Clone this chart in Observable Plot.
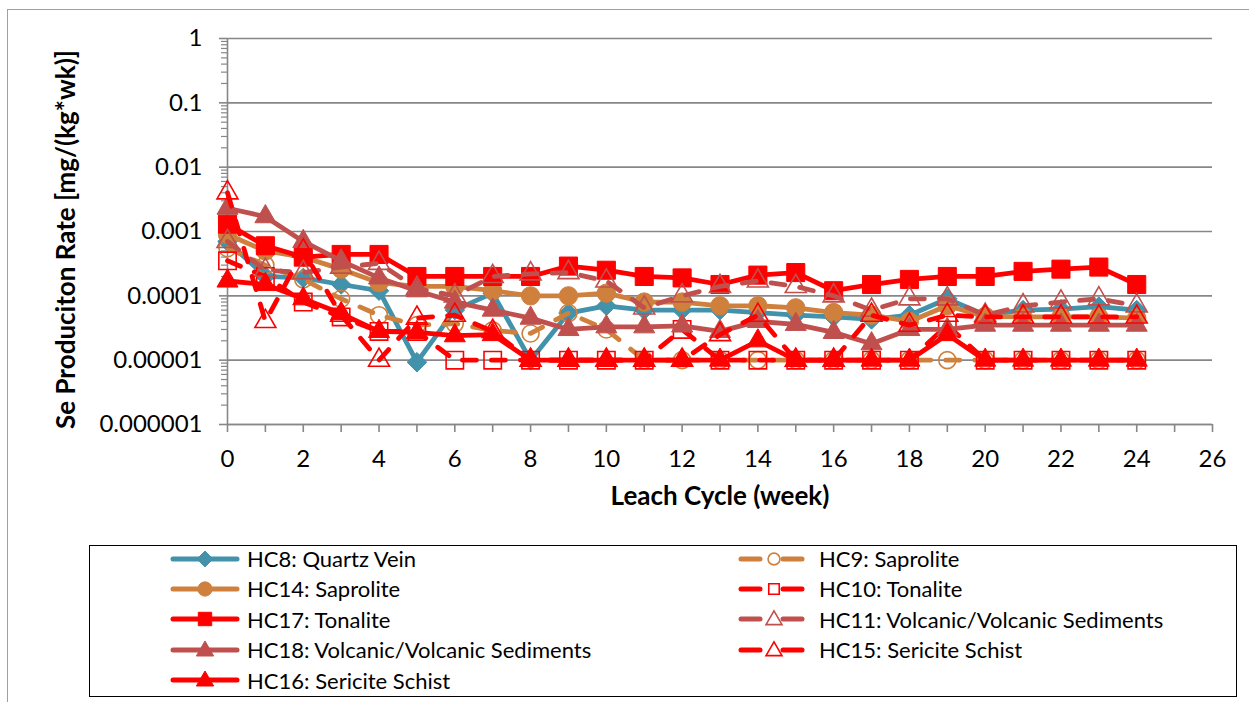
<!DOCTYPE html>
<html><head><meta charset="utf-8">
<script src="https://cdn.jsdelivr.net/npm/d3@7"></script>
<script src="https://cdn.jsdelivr.net/npm/@observablehq/plot@0.6"></script>
<style>
body{margin:0;background:#fff;font-family:Lato,"Open Sans",sans-serif;overflow:hidden;}
#frame{position:absolute;left:7px;top:9px;width:1400px;height:900px;border:1px solid #a0a0a0;box-sizing:border-box;}
#chart{position:absolute;left:0;top:0;}
#legend{position:absolute;left:89px;top:545px;width:1148px;height:152px;border:1.6px solid #000;box-sizing:border-box;background:#fff;}
.item{position:absolute;height:30px;display:flex;align-items:center;}
.item span{font-size:22px;color:#000;white-space:nowrap;}
</style></head><body>
<div id="frame"></div>
<div id="chart"></div>
<div id="legend"></div>
<script>
// ---- data ----
const weeks = [0,1,2,3,4,5,6,7,8,9,10,11,12,13,14,15,16,17,18,19,20,21,22,23,24];
const hc8  = [0.0007,0.0002,0.00019,0.00015,0.00012,0.0000093,0.00006,0.00011,0.00001,0.000054,0.00007,0.00006,0.00006,0.00006,0.000055,0.00005,0.000047,0.000043,0.00005,0.00009,0.00005,0.00006,0.000062,0.000068,0.00006];
const hc9  = [0.00055,0.0003,0.00018,0.00009,0.00005,0.000035,0.000037,0.000029,0.000026,0.000054,0.00003,0.00001,0.00001,0.00001,0.00001,0.00001,0.00001,0.00001,0.00001,0.00001,0.00001,0.00001,0.00001,0.00001,0.00001];
const hc14 = [0.0009,0.0005,0.0004,0.00026,0.00016,0.00014,0.00014,0.00012,0.0001,0.0001,0.00011,0.00008,0.00008,0.00007,0.00007,0.000065,0.000055,0.00005,0.00004,0.00007,0.000048,0.000047,0.000047,0.000047,0.000045];
const hc10 = [0.00035,0.0002,0.00008,0.000047,0.000028,0.000028,0.00001,0.00001,0.00001,0.00001,0.00001,0.00001,0.00003,0.00001,0.00001,0.00001,0.00001,0.00001,0.00001,0.000035,0.00001,0.00001,0.00001,0.00001,0.00001];
const hc17 = [0.0013,0.0006,0.0004,0.00044,0.00044,0.0002,0.0002,0.0002,0.0002,0.00029,0.00025,0.0002,0.00019,0.00015,0.00021,0.00023,0.00012,0.00015,0.00018,0.0002,0.0002,0.00024,0.00026,0.00028,0.00015];
const hc11 = [0.0007,0.00025,0.00023,0.00028,0.00032,0.00013,0.0001,0.0002,0.00022,0.00023,0.00017,0.000065,0.0001,0.00014,0.00017,0.00014,0.0001,0.00006,0.00009,0.00009,0.00005,0.00007,0.00008,0.00009,0.00007];
const hc18 = [0.0023,0.0017,0.0007,0.00035,0.00019,0.00012,0.00008,0.00006,0.000045,0.00003,0.000033,0.000033,0.000034,0.000028,0.00004,0.000036,0.000027,0.000018,0.00003,0.00003,0.000035,0.000035,0.000035,0.000035,0.000035];
const hc15 = [0.004,0.00004,0.0005,0.00005,0.00001,0.000045,0.00005,0.000028,0.00001,0.00001,0.00001,0.00001,0.00001,0.000025,0.00005,0.00001,0.00001,0.00005,0.000035,0.00005,0.000047,0.000047,0.000047,0.000047,0.000047];
const hc16 = [0.00017,0.00015,0.00009,0.000053,0.000028,0.000027,0.000024,0.000025,0.00001,0.00001,0.00001,0.00001,0.00001,0.00001,0.00002,0.00001,0.00001,0.00001,0.00001,0.000025,0.00001,0.00001,0.00001,0.00001,0.00001];

const seriesNames = ["HC8: Quartz Vein","HC9: Saprolite","HC14: Saprolite","HC10: Tonalite","HC17: Tonalite","HC11: Volcanic/Volcanic Sediments","HC18: Volcanic/Volcanic Sediments","HC15: Sericite Schist","HC16: Sericite Schist"];
const seriesValues = [hc8,hc9,hc14,hc10,hc17,hc11,hc18,hc15,hc16];

const yTicks = [1,0.1,0.01,0.001,0.0001,0.00001,0.000001];
const yTickLabels = ["1","0.1","0.01","0.001","0.0001","0.00001","0.000001"];
const xTicks = [0,1,2,3,4,5,6,7,8,9,10,11,12,13,14,15,16,17,18,19,20,21,22,23,24,25,26];
const xTickLabels = [0,2,4,6,8,10,12,14,16,18,20,22,24,26];
const xTitle = "Leach Cycle (week)";
const yTitle = "Se Produciton Rate [mg/(kg*wk)]";

// ---- styles ----
const TEAL="#4192AA", ORANGE="#CF803D", RED="#FF0000", BROWN="#C0504D";
const styles = [
  {color:TEAL,   dashed:false, symbol:"diamond2", open:false, r:8.8},
  {color:ORANGE, dashed:true,  symbol:"circle",   open:true,  r:8.5},
  {color:ORANGE, dashed:false, symbol:"circle",   open:false, r:9.2},
  {color:RED,    dashed:true,  symbol:"square",   open:true,  r:9.8},
  {color:RED,    dashed:false, symbol:"square",   open:false, r:10.2},
  {color:BROWN,  dashed:true,  symbol:"triangle", open:true,  r:7.8},
  {color:BROWN,  dashed:false, symbol:"triangle", open:false, r:7.8},
  {color:RED,    dashed:true,  symbol:"triangle", open:true,  r:7.8},
  {color:RED,    dashed:false, symbol:"triangle", open:false, r:7.8}
];
const GRID="#878787";
const DASH="14,15";

const rows = seriesNames.map((name,k)=>weeks.map((w,i)=>({series:name, week:w, value:seriesValues[k][i]})));
const labelMap = new Map(yTicks.map((d,i)=>[d,yTickLabels[i]]));
const yMinor = yTicks.slice(1).flatMap(d=>[2,3,4,5,6,7,8,9].map(m=>m*d));

const marks = [
  Plot.gridY(yTicks,{stroke:GRID,strokeOpacity:1,strokeWidth:1.6}),
  Plot.ruleX([0],{stroke:GRID,strokeWidth:1.6}),
  Plot.ruleY([0.000001],{stroke:GRID,strokeWidth:1.6}),
  Plot.axisY(yMinor,{tickSize:6,tickFormat:()=>"",stroke:GRID,strokeWidth:1.2}),
  Plot.axisY(yTicks,{tickSize:8,tickFormat:()=>"",stroke:GRID,strokeWidth:1.6}),
  Plot.axisY(yTicks,{tickSize:0,tickPadding:25,tickFormat:d=>labelMap.get(d),fontSize:24,fill:"#000"}),
  Plot.axisX(xTicks,{tickSize:8,tickFormat:()=>"",stroke:GRID,strokeWidth:1.6}),
  Plot.axisX(xTickLabels,{tickSize:0,tickPadding:25,fontSize:24,fill:"#000"}),
  Plot.text([xTitle],{frameAnchor:"bottom",dy:80,fontSize:26,fontWeight:"bold",fill:"#000"}),
  Plot.text([yTitle],{frameAnchor:"left",textAnchor:"middle",dx:-161,dy:8,rotate:-90,fontSize:26,fontWeight:"bold",fill:"#000"})
];
rows.forEach((data,k)=>{
  const s = styles[k];
  marks.push(Plot.line(data,{x:"week",y:"value",stroke:s.color,strokeWidth:4.8,
    strokeDasharray:s.dashed?DASH:null,strokeLinecap:"round",strokeLinejoin:"round"}));
  marks.push(Plot.dot(data,{x:"week",y:"value",symbol:s.symbol,r:s.r,
    fill:s.open?"none":s.color,stroke:s.color,strokeWidth:s.open?1.6:1}));
});

const chart = Plot.plot({
  width:1249,height:520,
  marginLeft:227,marginRight:37,marginTop:38,marginBottom:96,
  style:{fontFamily:"Lato, 'Open Sans', sans-serif",background:"transparent",overflow:"visible"},
  x:{domain:[0,26],label:null},
  y:{type:"log",domain:[0.000001,1],label:null},
  marks
});
document.getElementById("chart").appendChild(chart);

// ---- legend ----
const symMap = {diamond2:d3.symbolDiamond2,circle:d3.symbolCircle,square:d3.symbolSquare,triangle:d3.symbolTriangle};
const legend = document.getElementById("legend");
seriesNames.forEach((name,i)=>{
  const s = styles[i];
  const col = i%2, row = Math.floor(i/2);
  const item = document.createElement("div");
  item.className="item";
  item.style.top = (row*30.4-2.5)+"px";
  item.style.left = (col===0? 80 : 646)+"px";
  const ns="http://www.w3.org/2000/svg";
  const svg = document.createElementNS(ns,"svg");
  svg.setAttribute("width",70);svg.setAttribute("height",30);
  svg.style.marginRight = col===0? "7px":"13px";
  const addLine=(x1,x2)=>{const l=document.createElementNS(ns,"line");
    l.setAttribute("x1",x1);l.setAttribute("x2",x2);l.setAttribute("y1",15);l.setAttribute("y2",15);
    l.setAttribute("stroke",s.color);l.setAttribute("stroke-width",5);l.setAttribute("stroke-linecap","round");svg.appendChild(l);};
  let cx;
  if(!s.dashed){ addLine(3,67); cx=35; }
  else { addLine(5,24); addLine(47,66); cx=38; }
  const p=document.createElementNS(ns,"path");
  const area = s.symbol==="triangle"?130:(s.symbol==="diamond2"?160:(s.symbol==="square"?180:160));
  p.setAttribute("d",d3.symbol(symMap[s.symbol],s.open?110:area)());
  p.setAttribute("transform",`translate(${cx},${s.symbol==="triangle"?16:15})`);
  p.setAttribute("fill",s.open?"#fff":s.color);p.setAttribute("stroke",s.color);p.setAttribute("stroke-width",s.open?1.6:1);
  svg.appendChild(p);
  const t=document.createElement("span");t.textContent=name;
  item.appendChild(svg);item.appendChild(t);
  legend.appendChild(item);
});
</script>
</body></html>
